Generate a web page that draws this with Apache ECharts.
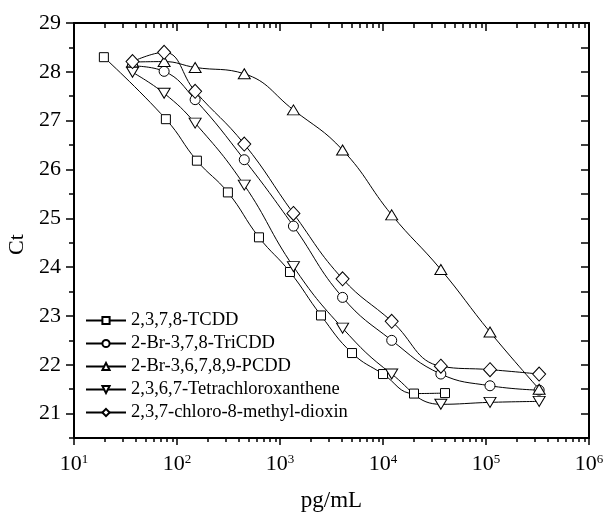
<!DOCTYPE html>
<html>
<head>
<meta charset="utf-8">
<script src="https://cdn.jsdelivr.net/npm/echarts@6/dist/echarts.min.js"></script>
<style>
html,body{margin:0;padding:0;background:#fff;}
#chart{width:605px;height:515px;}
</style>
</head>
<body>
<div id="chart"></div>
<script>
// ---- data ----
var seriesNames = ['2,3,7,8-TCDD', '2-Br-3,7,8-TriCDD', '2-Br-3,6,7,8,9-PCDD', '2,3,6,7-Tetrachloroxanthene', '2,3,7-chloro-8-methyl-dioxin'];
var xTCDD = [19.5, 78, 156, 312, 625, 1250, 2500, 5000, 10000, 20000, 40000];
var yTCDD = [28.30, 27.03, 26.18, 25.53, 24.61, 23.90, 23.01, 22.24, 21.81, 21.41, 21.42];
var xOther = [37, 75, 150, 450, 1350, 4050, 12150, 36450, 109350, 328050];
var yTriCDD = [28.12, 28.01, 27.43, 26.20, 24.84, 23.38, 22.50, 21.81, 21.57, 21.48];
var yPCDD = [28.20, 28.21, 28.09, 27.96, 27.22, 26.40, 25.07, 23.95, 22.67, 21.50];
var yXanthene = [27.99, 27.56, 26.95, 25.68, 24.01, 22.75, 21.81, 21.19, 21.23, 21.25];
var yMethyl = [28.21, 28.40, 27.60, 26.52, 25.10, 23.76, 22.89, 21.97, 21.90, 21.81];

var xMajorTicks = [10, 100, 1000, 10000, 100000, 1000000];
var xTickSup = ['1', '2', '3', '4', '5', '6'];
var xMinorTicks = [20,30,40,50,60,70,80,90, 200,300,400,500,600,700,800,900,
  2000,3000,4000,5000,6000,7000,8000,9000, 20000,30000,40000,50000,60000,70000,80000,90000,
  200000,300000,400000,500000,600000,700000,800000,900000];
var yMajorTicks = [21, 22, 23, 24, 25, 26, 27, 28, 29];
var yMinorTicks = [20.5, 21.5, 22.5, 23.5, 24.5, 25.5, 26.5, 27.5, 28.5];
var yRightTicks = [20.5, 21, 21.5, 22, 22.5, 23, 23.5, 24, 24.5, 25, 25.5, 26, 26.5, 27, 27.5, 28, 28.5, 29];

var FONT = '"Liberation Serif", "Times New Roman", serif';

function pairs(xs, ys) { return xs.map(function (x, i) { return [x, ys[i]]; }); }

var chart = echarts.init(document.getElementById('chart'), null, {renderer: 'canvas'});

var lineStyle = {color: '#000', width: 1};
var itemStyle = {color: '#fff', borderColor: '#000', borderWidth: 1};

function mkSeries(name, data, symbol, size, rotate) {
  return {
    name: name, type: 'line', data: data, xAxisIndex: 0, yAxisIndex: 0,
    smooth: 0.45, symbol: symbol, symbolSize: size, symbolRotate: rotate || 0,
    showAllSymbol: true,
    lineStyle: lineStyle, itemStyle: itemStyle, emphasis: {disabled: true},
    animation: false
  };
}

function xAx(pos, ticks, len, inside, showLine, showLabel) {
  return {
    type: 'log', logBase: 10, min: 10, max: 1000000, position: pos, gridIndex: 0,
    name: (showLabel ? 'pg/mL' : ''), nameLocation: 'middle', nameGap: 51,
    nameTextStyle: {fontFamily: FONT, fontSize: 23, color: '#000'},
    axisLine: {show: showLine, onZero: false, lineStyle: {color: '#000', width: 2}},
    axisTick: {show: true, inside: inside, length: len, lineStyle: {color: '#000', width: 1.5}, customValues: ticks},
    minorTick: {show: false},
    splitLine: {show: false},
    axisLabel: showLabel ? {
      show: true, margin: 15, customValues: ticks,
      formatter: function (v) {
        var idx = Math.round(Math.log10(v)) - 1;
        return '{b|10}{s|' + xTickSup[idx] + '}';
      },
      rich: {
        b: {fontFamily: FONT, fontSize: 22, color: '#000', lineHeight: 22},
        s: {fontFamily: FONT, fontSize: 13, color: '#000', verticalAlign: 'top', lineHeight: 13}
      }
    } : {show: false}
  };
}

function yAx(pos, ticks, len, inside, showLine, showLabel) {
  return {
    type: 'value', min: 20.5, max: 29, position: pos, gridIndex: 0,
    name: (showLabel ? 'Ct' : ''), nameLocation: 'middle', nameGap: 41,
    nameTextStyle: {fontFamily: FONT, fontSize: 22, color: '#000', padding: [0, 28, 0, 0]},
    axisLine: {show: showLine, onZero: false, lineStyle: {color: '#000', width: 2}},
    axisTick: {show: true, inside: inside, length: len, lineStyle: {color: '#000', width: 1.5}, customValues: ticks},
    splitLine: {show: false},
    axisLabel: showLabel ? {
      show: true, margin: 13, customValues: ticks,
      fontFamily: FONT, fontSize: 22, color: '#000'
    } : {show: false}
  };
}

var option = {
  backgroundColor: '#fff',
  animation: false,
  grid: {left: 74, right: 16, top: 23, bottom: 77, containLabel: false, outerBoundsMode: 'none'},
  legend: {
    orient: 'vertical', left: 85, top: 311, padding: 0, itemGap: 4, itemWidth: 40, itemHeight: 9,
    textStyle: {fontFamily: FONT, fontSize: 18.5, color: '#000'},
    data: seriesNames, selectedMode: false
  },
  xAxis: [
    xAx('bottom', xMajorTicks, 7, false, true, true),
    xAx('bottom', xMinorTicks, 4, false, false, false),
    xAx('top', xMajorTicks, 8, true, true, false),
    xAx('top', xMinorTicks, 5, true, false, false)
  ],
  yAxis: [
    yAx('left', yMajorTicks, 8, false, true, true),
    yAx('left', yMinorTicks, 5, false, false, false),
    yAx('right', yRightTicks, 8, true, true, false)
  ],
  series: [
    mkSeries(seriesNames[0], pairs(xTCDD, yTCDD), 'rect', 9),
    mkSeries(seriesNames[1], pairs(xOther, yTriCDD), 'circle', 10),
    mkSeries(seriesNames[2], pairs(xOther, yPCDD), 'triangle', [12, 10]),
    mkSeries(seriesNames[3], pairs(xOther, yXanthene), 'triangle', [12, 10], 180),
    mkSeries(seriesNames[4], pairs(xOther, yMethyl), 'diamond', [13, 14])
  ]
};
chart.setOption(option);
</script>
</body>
</html>
